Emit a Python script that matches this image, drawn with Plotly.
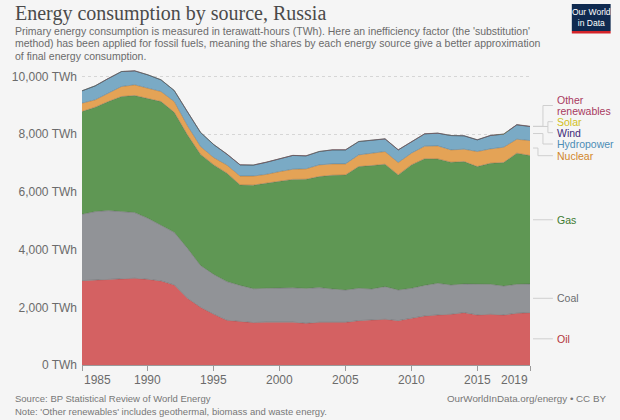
import plotly.graph_objects as go

years = list(range(1985, 2020))

oil = [2925, 2948, 2971, 2971, 3006, 2971, 2914, 2775, 2313, 2000,
       1760, 1550, 1515, 1470, 1485, 1475, 1485, 1445, 1480, 1480,
       1480, 1538, 1561, 1584, 1538, 1618, 1700, 1734, 1757, 1815,
       1734, 1757, 1734, 1792, 1815]
coal = [2301, 2370, 2382, 2347, 2278, 2116, 1942, 1825, 1737, 1450,
        1380, 1341, 1245, 1175, 1174, 1200, 1190, 1210, 1203, 1156,
        1121, 1121, 1075, 1133, 1063, 1041, 1060, 1099, 1018, 995,
        1064, 1041, 1006, 1006, 995]
gas = [3560, 3619, 3780, 3989, 4058, 4162, 4277, 4160, 3930, 3850,
       3797, 3758, 3483, 3590, 3631, 3695, 3760, 3785, 3849, 3943,
       3989, 4220, 4278, 4243, 3989, 4278, 4390, 4312, 4255, 4242,
       4081, 4197, 4278, 4545, 4451]
nuclear = [290, 255, 290, 347, 370, 347, 347, 373, 320, 274,
           253, 281, 307, 315, 320, 335, 352, 360, 405, 393,
           382, 405, 429, 440, 428, 406, 435, 451, 427, 429,
           521, 497, 532, 484, 520]
hydro = [428, 485, 510, 519, 484, 462, 405, 382, 480, 486,
         450, 380, 387, 380, 420, 445, 478, 449, 463, 485,
         485, 462, 461, 439, 439, 403, 427, 440, 497, 462,
         404, 462, 451, 498, 486]
wind = [0]*20 + [0, 0, 0, 0, 0, 0, 0, 0, 0, 1, 1, 1, 1, 1, 1]
solar = [0]*28 + [0, 1, 1, 2, 2, 3, 3]
other = [4]*20 + [5, 5, 5, 5, 5, 5, 6, 6, 6, 6, 6, 7, 7, 7, 7]

series = [
    ("Oil", oil, "rgb(212,97,98)", "#b3333a"),
    ("Coal", coal, "rgb(145,147,151)", "#6b6c6f"),
    ("Gas", gas, "rgb(95,151,84)", "#3c7a30"),
    ("Nuclear", nuclear, "rgb(228,163,86)", "#d2862a"),
    ("Hydropower", hydro, "rgb(122,170,197)", "#4d8db5"),
    ("Wind", wind, "rgb(80,55,140)", "#3d2a7a"),
    ("Solar", solar, "rgb(220,205,60)", "#d1bf1e"),
    ("Other renewables", other, "rgb(170,60,95)", "#a8395f"),
]

y_ticks = [0, 2000, 4000, 6000, 8000, 10000]
y_tick_text = ["{:,} TWh".format(v) for v in y_ticks]
x_ticks = [1985, 1990, 1995, 2000, 2005, 2010, 2015, 2019]

W, H = 620, 420
L, R, T, B = 80, 90, 65, 55
YMAX = 10400


def pxx(xp):
    return (xp - L) / (W - L - R)


def pyy(yp):
    return (H - B - yp) / (H - T - B)


def pyv(yp):
    # pixel row -> value on the y axis (for label placement)
    return (H - B - yp) / (H - T - B) * YMAX


fig = go.Figure()
for name, vals, fill, _ in series:
    fig.add_trace(go.Scatter(
        x=years, y=vals, name=name, mode="lines", stackgroup="one",
        line=dict(width=0.6, color="rgba(70,70,70,0.5)"),
        fillcolor=fill, hoverinfo="x+y+name", showlegend=False,
    ))

last = {}
cum = 0
for name, vals, _, _ in series:
    lo = cum
    cum += vals[-1]
    last[name] = (lo, cum)

# label rows (px) and elbow x (px)
label_pos = {
    "Other renewables": (105.5, 543),
    "Solar": (121.7, 548),
    "Wind": (132.7, 548),
    "Hydropower": (144.0, 543),
    "Nuclear": (155.7, 538),
}

font_lab = "Liberation Sans, Arial"
shapes = []
annotations = []
for name, vals, fill, tcol in series:
    lo, hi = last[name]
    start = (lo + hi) / 2
    if name in label_pos:
        lyp, xm = label_pos[name]
        ly = pyv(lyp)
        path = "M {a},{s} L {m},{s} L {m},{l} L {b},{l}".format(
            a=pxx(533), m=pxx(xm), b=pxx(553), s=start, l=ly)
        shapes.append(dict(type="path", xref="paper", yref="y", path=path,
                           line=dict(color="#cfcfcf", width=1)))
    else:
        ly = start
        shapes.append(dict(type="line", xref="paper", yref="y",
                           x0=pxx(533), x1=pxx(553), y0=start, y1=start,
                           line=dict(color="#cfcfcf", width=1)))
    if name == "Other renewables":
        for txt, row in (("Other", 100.2), ("renewables", 110.9)):
            annotations.append(dict(xref="paper", yref="y", x=pxx(555), y=pyv(row),
                                    xanchor="left", yanchor="middle", text=txt,
                                    showarrow=False,
                                    font=dict(family=font_lab, size=10.5, color=tcol)))
    else:
        annotations.append(dict(xref="paper", yref="y", x=pxx(555), y=ly,
                                xanchor="left", yanchor="middle", text=name,
                                showarrow=False,
                                font=dict(family=font_lab, size=10.5, color=tcol)))

for yr in x_ticks:
    anchor = "left" if yr == x_ticks[0] else ("right" if yr == x_ticks[-1] else "center")
    annotations.append(dict(xref="x", yref="paper", x=yr, y=pyy(380),
                            xanchor=anchor, yanchor="middle", text=str(yr),
                            showarrow=False,
                            font=dict(family=font_lab, size=12, color="#6b6b6b")))

annotations.append(dict(xref="paper", yref="paper", x=pxx(11), y=pyy(13),
                        xanchor="left", yanchor="middle",
                        text="Energy consumption by source, Russia", showarrow=False,
                        font=dict(family="Liberation Serif, Times New Roman", size=20, color="#4a4a4a")))
sub = ["Primary energy consumption is measured in terawatt-hours (TWh). Here an inefficiency factor (the 'substitution'",
       "method) has been applied for fossil fuels, meaning the shares by each energy source give a better approximation",
       "of final energy consumption."]
for i, s in enumerate(sub):
    annotations.append(dict(xref="paper", yref="paper", x=pxx(11), y=pyy(31 + 12.5 * i),
                            xanchor="left", yanchor="middle", text=s, showarrow=False,
                            font=dict(family=font_lab, size=10.5, color="#6b6b6b")))
annotations.append(dict(xref="paper", yref="paper", x=pxx(11), y=pyy(398),
                        xanchor="left", yanchor="middle",
                        text="Source: BP Statistical Review of World Energy", showarrow=False,
                        font=dict(family=font_lab, size=9.5, color="#777777")))
annotations.append(dict(xref="paper", yref="paper", x=pxx(11), y=pyy(411),
                        xanchor="left", yanchor="middle",
                        text="Note: 'Other renewables' includes geothermal, biomass and waste energy.",
                        showarrow=False,
                        font=dict(family=font_lab, size=9.5, color="#777777")))
annotations.append(dict(xref="paper", yref="paper", x=pxx(608), y=pyy(398),
                        xanchor="right", yanchor="middle",
                        text="OurWorldInData.org/energy • CC BY", showarrow=False,
                        font=dict(family=font_lab, size=9.8, color="#777777")))

shapes.append(dict(type="rect", xref="paper", yref="paper",
                   x0=pxx(572), x1=pxx(611), y0=pyy(31), y1=pyy(4),
                   fillcolor="#0f2a50", line=dict(width=0)))
shapes.append(dict(type="rect", xref="paper", yref="paper",
                   x0=pxx(572), x1=pxx(611), y0=pyy(33.5), y1=pyy(31),
                   fillcolor="#d4242a", line=dict(width=0)))
annotations.append(dict(xref="paper", yref="paper", x=pxx(591.5), y=pyy(17.5),
                        xanchor="center", yanchor="middle",
                        text="Our World<br>in Data", showarrow=False,
                        font=dict(family=font_lab, size=8.5, color="white")))

fig.update_layout(
    width=W, height=H,
    margin=dict(l=L, r=R, t=T, b=B, pad=0),
    paper_bgcolor="#f5f5f5", plot_bgcolor="#f5f5f5",
    showlegend=False,
    shapes=shapes, annotations=annotations,
    xaxis=dict(range=[1985, 2019], tickvals=x_ticks, showticklabels=False,
               ticks="outside", ticklen=5, tickcolor="#9a9a9a",
               showgrid=False, zeroline=False, showline=True,
               linecolor="#9a9a9a", linewidth=1),
    yaxis=dict(range=[0, YMAX], tickmode="array", tickvals=y_ticks, ticktext=y_tick_text,
               showgrid=True, gridcolor="#d6d6d6", griddash="dot", gridwidth=1,
               zeroline=False, showline=False, ticks="", ticklabelstandoff=4,
               tickfont=dict(family=font_lab, size=12, color="#6b6b6b")),
)

fig.write_html("out.html")
